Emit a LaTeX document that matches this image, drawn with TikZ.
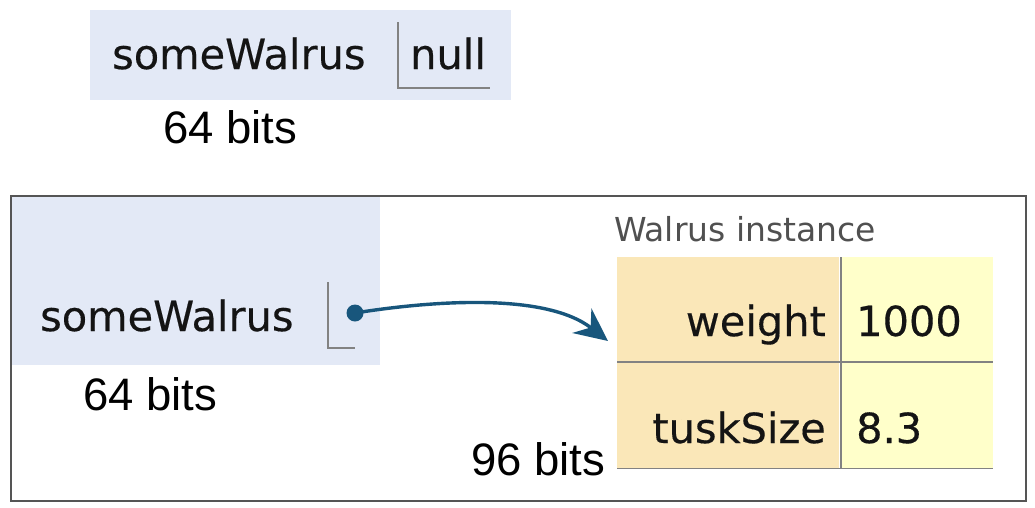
\documentclass[tikz,border=0pt]{standalone}
\usepackage{fontspec}
\setmainfont{DejaVu Sans}
\newfontfamily\fieldfont[FakeBold=0.35]{DejaVu Sans}
\newfontfamily\arialfont{Liberation Sans}
\usetikzlibrary{arrows.meta}

\definecolor{varbg}{RGB}{227,233,246}
\definecolor{namecell}{RGB}{250,231,184}
\definecolor{valcell}{RGB}{255,255,202}
\definecolor{ptrblue}{RGB}{24,86,124}
\definecolor{gridgray}{RGB}{130,130,130}
\definecolor{framegray}{RGB}{85,85,85}
\definecolor{captiongray}{RGB}{80,80,80}

\tikzset{
  x=1pt, y=-1pt,
  panel/.style={rectangle, inner sep=0pt, anchor=north west, fill=#1},
  vartext/.style={inner sep=0pt, text=black!92, font=\fieldfont\fontsize{41.5}{48}\selectfont},
  bitstext/.style={inner sep=0pt, text=black, font=\arialfont\fontsize{45.5}{52}\selectfont},
  captiontext/.style={inner sep=0pt, text=captiongray, font=\fontsize{33}{39}\selectfont},
  cellline/.style={draw=gridgray, line width=1.6pt},
  ptrline/.style={draw=ptrblue, line width=3.4pt, -{Stealth[length=33pt, width=31pt, inset=11pt]}},
}

\begin{document}
\begin{tikzpicture}
  \useasboundingbox (0,0) rectangle (1035,507);

  % variable holding null
  \node[panel=varbg, minimum width=421pt, minimum height=90pt] (nullvar) at (90,10) {};
  \node[vartext, anchor=base west] (nullname) at (112,69) {someWalrus};
  \node[vartext, anchor=base west] (nullval) at (410,69) {null};
  \coordinate (nullcelltop) at (398,22);
  \coordinate (nullcellend) at (490,88);
  \draw[cellline] (nullcelltop) |- (nullcellend);
  \node[bitstext, anchor=base west] (nullbits) at (163,143) {64 bits};

  % framed pointer example
  \node[rectangle, draw=framegray, line width=2pt, anchor=north west,
        minimum width=1015pt, minimum height=305pt] (frame) at (10,195) {};
  \node[panel=varbg, minimum width=368pt, minimum height=168pt] (ptrvar) at (12,197) {};
  \node[vartext, anchor=base west] (ptrname) at (40,331) {someWalrus};
  \coordinate (ptrcelltop) at (328,282);
  \coordinate (ptrcellend) at (355,348);
  \draw[cellline] (ptrcelltop) |- (ptrcellend);
  \node[bitstext, anchor=base west] (ptrbits) at (83,410) {64 bits};

  % Walrus object
  \node[captiontext, anchor=base west] (caption) at (614,241) {Walrus instance};
  \node[panel=namecell, minimum width=222pt, minimum height=105pt] (wname) at (617,257) {};
  \node[panel=valcell, minimum width=152pt, minimum height=105pt] (wval) at (841,257) {};
  \node[panel=namecell, minimum width=222pt, minimum height=106pt] (tname) at (617,362) {};
  \node[panel=valcell, minimum width=152pt, minimum height=106pt] (tval) at (841,362) {};
  \draw[cellline] (wval.north west) -- (tval.south west);
  \draw[cellline] (tname.north west) -- (tval.north east);
  \draw[cellline] (tname.south west) -- (tval.south east);
  \node[vartext, anchor=base east] (weightlbl) at (826,336) {weight};
  \node[vartext, anchor=base west] (weightval) at (856,336) {1000};
  \node[vartext, anchor=base east] (tusklbl) at (826,443) {tuskSize};
  \node[vartext, anchor=base west] (tuskval) at (856,443) {8.3};
  \node[bitstext, anchor=base west] (objbits) at (471,475) {96 bits};

  % reference arrow
  \node[circle, fill=ptrblue, minimum size=17pt, inner sep=0pt] (dot) at (355,313) {};
  \coordinate (tip) at (608,341);
  \draw[ptrline] (dot.center) .. controls (430,301) and (545,292) .. (tip);
\end{tikzpicture}
\end{document}
